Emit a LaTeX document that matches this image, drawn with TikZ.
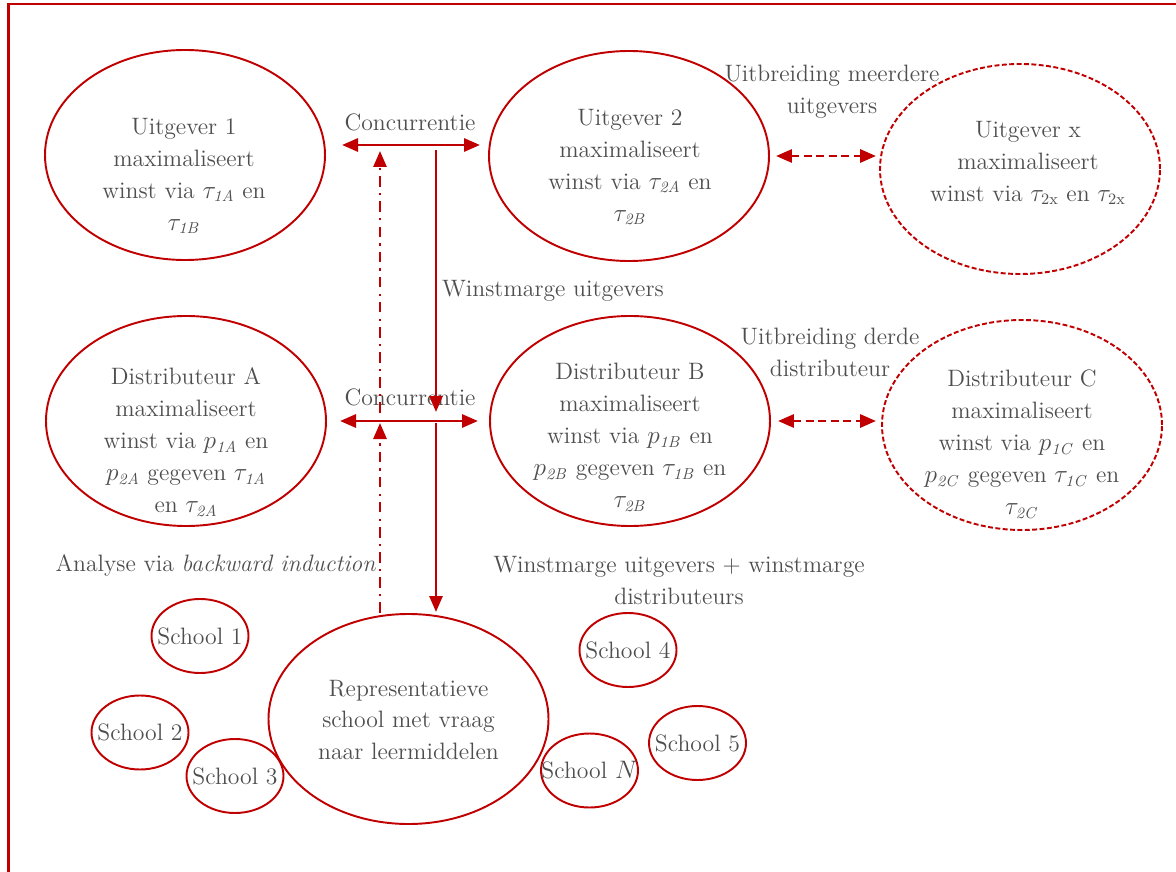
\documentclass[tikz,border=0pt]{standalone}
\usetikzlibrary{arrows.meta, shapes.geometric}
\definecolor{darkred}{RGB}{192,0,0}
\definecolor{txtgray}{RGB}{78,78,78}

\begin{document}
\begin{tikzpicture}[
    >={Triangle[length=0.32cm, width=0.26cm]},
    bigell/.style={ellipse, draw=darkred, line width=1.1pt, minimum width=5.6cm, minimum height=4.2cm, inner sep=0pt},
    extraell/.style={bigell, dash pattern=on 2.8pt off 1.4pt},
    schoolell/.style={ellipse, draw=darkred, line width=1.1pt, minimum width=1.94cm, minimum height=1.48cm, inner sep=0pt},
    ltext/.style={text=txtgray, font=\fontsize{13.5}{18.2}\selectfont, align=center, inner sep=1pt},
    compete/.style={<->, draw=darkred, line width=1.7pt},
    margin/.style={->, draw=darkred, line width=1.6pt},
    backward/.style={->, draw=darkred, line width=1.6pt, dash pattern=on 6pt off 3.5pt on 1.3pt off 3.5pt},
    extend/.style={<->, draw=darkred, line width=1.7pt, dash pattern=on 4.5pt off 2.6pt},
]
\useasboundingbox (0,0) rectangle (23.52,-17.44);

% === Frame (runs off the right and bottom) ===
\draw[darkred, line width=1.4pt] (0.17,-0.08) rectangle (24.5,-18.5);

% === Publishers ===
\node[bigell] (u1) at (3.70,-3.10) {};
\node[bigell] (u2) at (12.58,-3.12) {};
\node[extraell] (ux) at (20.40,-3.38) {};
\node[ltext] (u1t) at (3.68,-3.52) {Uitgever 1\\maximaliseert\\winst via $\tau_{\mathit{1A}}$ en\\$\tau_{\mathit{1B}}$};
\node[ltext] (u2t) at (12.60,-3.34) {Uitgever 2\\maximaliseert\\winst via $\tau_{\mathit{2A}}$ en\\$\tau_{\mathit{2B}}$};
\node[ltext] (uxt) at (20.56,-3.26) {Uitgever x\\maximaliseert\\winst via $\tau_{2\mathrm{x}}$ en $\tau_{2\mathrm{x}}$};

% === Distributors ===
\node[bigell] (dA) at (3.72,-8.42) {};
\node[bigell] (dB) at (12.60,-8.42) {};
\node[extraell] (dC) at (20.44,-8.50) {};
\node[ltext] (dAt) at (3.72,-8.84) {Distributeur A\\maximaliseert\\winst via $p_{\mathit{1A}}$ en\\$p_{\mathit{2A}}$ gegeven $\tau_{\mathit{1A}}$\\en $\tau_{\mathit{2A}}$};
\node[ltext] (dBt) at (12.60,-8.74) {Distributeur B\\maximaliseert\\winst via $p_{\mathit{1B}}$ en\\$p_{\mathit{2B}}$ gegeven $\tau_{\mathit{1B}}$ en\\$\tau_{\mathit{2B}}$};
\node[ltext] (dCt) at (20.44,-8.88) {Distributeur C\\maximaliseert\\winst via $p_{\mathit{1C}}$ en\\$p_{\mathit{2C}}$ gegeven $\tau_{\mathit{1C}}$ en\\$\tau_{\mathit{2C}}$};

% === Schools ===
\node[bigell] (rep) at (8.17,-14.38) {};
\node[ltext] (rept) at (8.17,-14.40) {Representatieve\\school met vraag\\naar leermiddelen};
\node[schoolell] (s1) at (4.00,-12.72) {};
\node[schoolell] (s2) at (2.80,-14.65) {};
\node[schoolell] (s3) at (4.70,-15.52) {};
\node[schoolell] (s4) at (12.56,-13.00) {};
\node[schoolell] (s5) at (13.95,-14.86) {};
\node[schoolell] (sN) at (11.79,-15.41) {};
\node[ltext] (s1t) at (s1) {School 1};
\node[ltext] (s2t) at (s2) {School 2};
\node[ltext] (s3t) at (s3) {School 3};
\node[ltext] (s4t) at (s4) {School 4};
\node[ltext] (s5t) at (s5) {School 5};
\node[ltext] (sNt) at (sN) {School $N$};

% === Arrow ends ===
\coordinate (c1w) at (6.84,-2.90);
\coordinate (c1e) at (9.60,-2.90);
\coordinate (c2w) at (6.80,-8.42);
\coordinate (c2e) at (9.56,-8.42);
\coordinate (mtop) at (8.72,-3.00);
\coordinate (mmid) at (8.72,-8.24);
\coordinate (mlow) at (8.72,-8.46);
\coordinate (mend) at (8.72,-12.24);
\coordinate (bstart) at (7.60,-12.26);
\coordinate (bmid) at (7.60,-8.46);
\coordinate (blow) at (7.60,-8.26);
\coordinate (bend) at (7.60,-3.02);

% === Competition ===
\draw[compete] (c1w) -- (c1e);
\draw[compete] (c2w) -- (c2e);
\node[ltext] (conc1) at (8.20,-2.44) {Concurrentie};
\node[ltext] (conc2) at (8.20,-7.94) {Concurrentie};

% === Margins down, analysis up ===
\draw[margin] (mtop) -- (mmid);
\draw[margin] (mlow) -- (mend);
\draw[backward] (bstart) -- (bmid);
\draw[backward] (blow) -- (bend);
\node[ltext, anchor=west] (wu) at (8.80,-5.82) {Winstmarge uitgevers};
\node[ltext, anchor=east] (bi) at (7.56,-11.30) {Analyse via \textit{backward induction}};
\node[ltext] (wud) at (13.58,-11.62) {Winstmarge uitgevers + winstmarge\\distributeurs};

% === Extensions ===
\draw[extend, shorten <=0.12cm, shorten >=0.06cm] (u2.east) -- (u2.east -| ux.west);
\draw[extend, shorten <=0.14cm, shorten >=0.10cm] (dB.east) -- (dB.east -| dC.west);
\node[ltext] (ext1) at (16.64,-1.84) {Uitbreiding meerdere\\uitgevers};
\node[ltext] (ext2) at (16.60,-7.04) {Uitbreiding derde\\distributeur};

\end{tikzpicture}
\end{document}
